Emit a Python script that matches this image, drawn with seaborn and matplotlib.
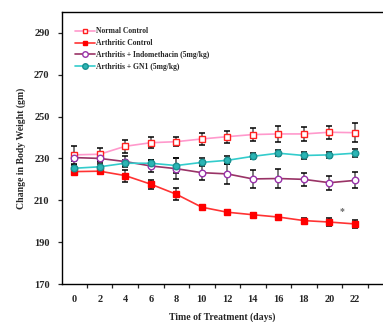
import numpy as np
import pandas as pd
import matplotlib
matplotlib.use("Agg")
import matplotlib.pyplot as plt
import seaborn as sns

# === Data ===
days = [0, 2, 4, 6, 8, 10, 12, 14, 16, 18, 20, 22]

normal = [231.7, 232.0, 235.8, 237.5, 238.0, 239.3, 240.4, 241.4, 241.7, 241.7, 242.5, 242.3]
normal_err = [4.3, 3.2, 3.0, 2.5, 2.0, 2.7, 2.9, 2.9, 4.0, 3.3, 3.0, 4.5]

arthritic = [223.7, 223.9, 221.8, 217.7, 212.9, 206.7, 204.3, 203.1, 202.0, 200.3, 199.6, 198.7]
arthritic_err = [1.0, 1.0, 2.9, 2.2, 2.9, 1.0, 1.0, 1.0, 1.0, 1.2, 2.1, 2.0]

indometh = [230.4, 230.0, 228.5, 226.4, 225.1, 223.2, 222.6, 220.2, 220.4, 220.0, 218.4, 219.5]
indometh_err = [1.5, 1.5, 2.5, 3.0, 5.0, 3.6, 4.8, 4.4, 4.7, 3.0, 3.3, 3.8]

gn1 = [225.3, 226.0, 227.7, 227.7, 226.6, 228.1, 229.1, 231.0, 232.5, 231.4, 231.7, 232.5]
gn1_err = [1.5, 1.5, 1.5, 1.5, 3.5, 1.9, 2.0, 1.5, 1.5, 1.5, 1.5, 1.8]

labels = ["Normal Control", "Arthritic Control",
          "Arthritis + Indomethacin (5mg/kg)", "Arthritis + GN1 (5mg/kg)"]

y_ticks = [170, 190, 210, 230, 250, 270, 290]

# === Styling ===
sns.set_style("ticks")
plt.rcParams['font.family'] = ['Liberation Serif', 'DejaVu Serif']
plt.rcParams['font.weight'] = 'bold'

series = [
    # values, errors, line colour, marker, marker face, marker edge, marker size
    (normal, normal_err, '#ff99cc', 's', 'white', '#ff2020', 3.8),
    (arthritic, arthritic_err, '#ff3333', 's', '#ff0000', '#ff0000', 3.8),
    (indometh, indometh_err, '#993366', 'o', 'white', '#9933aa', 4.7),
    (gn1, gn1_err, '#33cccc', 'o', '#2bb5b5', '#1a8f8f', 4.7),
]

fig = plt.figure(figsize=(3.83, 3.22), dpi=100)
ax = fig.add_axes([0.162, 0.118, 0.838, 0.845])

for (vals, errs, lc, mk, mfc, mec, ms), lab in zip(series, labels):
    df = pd.DataFrame({'day': days, 'weight': vals})
    _, caps, _ = ax.errorbar(days, vals, yerr=errs, fmt='none', ecolor='#707070',
                             elinewidth=1.3, capsize=2.4, capthick=1.1, zorder=2)
    for c in caps:
        c.set_color('black')
        c.set_markeredgecolor('black')
    sns.lineplot(data=df, x='day', y='weight', ax=ax, color=lc, lw=1.2,
                 marker=mk, markersize=ms, markerfacecolor=mfc,
                 markeredgecolor=mec, markeredgewidth=1.0, label=lab, zorder=3)

ax.text(21.0, 204.5, '*', ha='center', va='center', fontsize=7, color='#666666')

ax.set_xlim(-0.95, 24.2)
ax.set_ylim(170, 300)
ax.set_yticks(y_ticks)
ax.set_yticklabels([str(v) for v in y_ticks], fontsize=7.5, fontweight='bold')

# tick marks at odd days, labels at even days
ax.set_xticks(np.arange(1, 25, 2))
ax.set_xticklabels([])
ax.set_xticks(days, minor=True)
ax.set_xticklabels([str(d) for d in days], minor=True, fontsize=7.5, fontweight='bold')
ax.tick_params(axis='x', which='major', length=3, width=0.9, direction='out')
ax.tick_params(axis='x', which='minor', length=0, pad=8)
ax.tick_params(axis='y', length=3, width=0.9, direction='out', pad=6)

ax.set_xlabel('Time of Treatment (days)', fontsize=7, fontweight='bold', labelpad=6)
ax.set_ylabel('Change in Body Weight (gm)', fontsize=7, fontweight='bold', labelpad=6)

for side in ['left', 'bottom', 'top']:
    ax.spines[side].set_linewidth(1.0)
    ax.spines[side].set_color('black')
ax.spines['right'].set_visible(False)

leg = ax.legend(loc='upper left', bbox_to_anchor=(0.025, 0.96), frameon=False,
                fontsize=5.5, handlelength=2.6, handletextpad=0.15,
                labelspacing=0.5, borderaxespad=0.2, markerscale=0.85)
for t in leg.get_texts():
    t.set_fontweight('bold')

fig.savefig('out.png', dpi=100)
plt.close(fig)
